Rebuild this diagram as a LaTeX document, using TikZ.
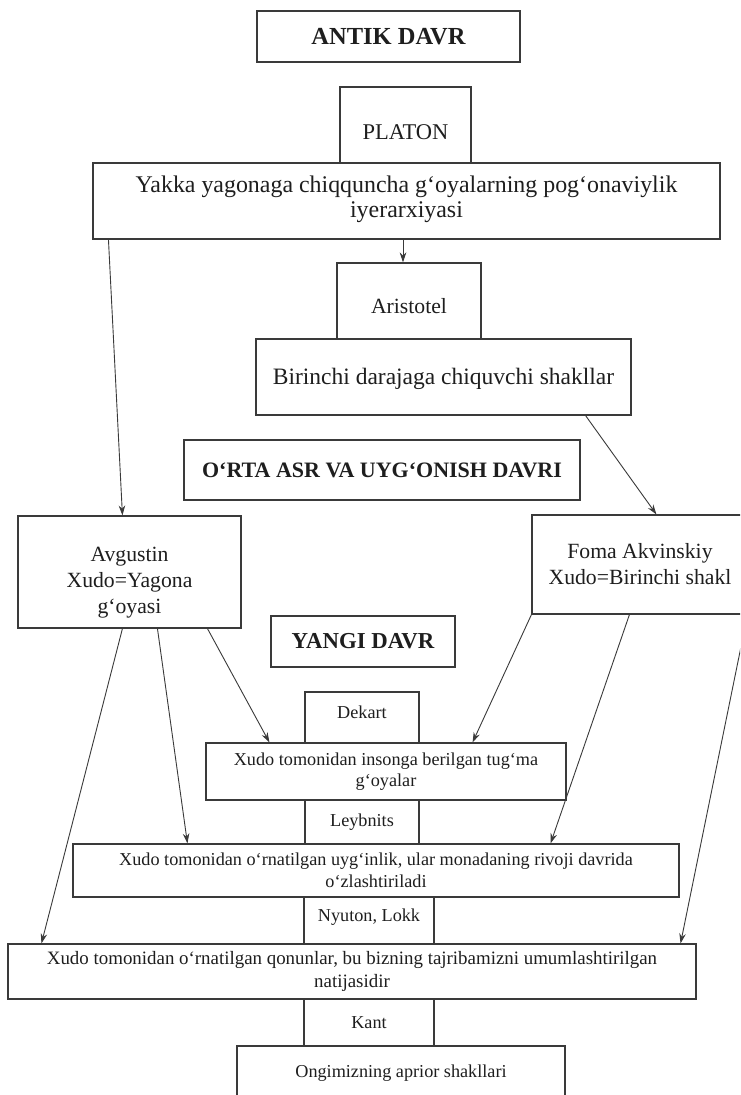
\documentclass[tikz,border=0pt]{standalone}
\usepackage{fontspec}
\setmainfont{Liberation Serif}
\usetikzlibrary{arrows.meta}
\definecolor{ink}{HTML}{1E1E1E}
\definecolor{edge}{HTML}{3A3A3A}
\newcommand{\dn}[2]{\raisebox{-#1}[\height][\depth]{#2}}
\begin{document}
\begin{tikzpicture}[x=1pt,y=-1pt,
  box/.style={draw=edge,line width=1.1pt,rectangle,inner sep=0pt,align=center,text=ink},
  big/.style={font=\fontsize{23.5}{24.5}\selectfont},
  mid/.style={font=\fontsize{21.7}{26}\selectfont},
  hdr/.style={font=\fontsize{22}{26}\selectfont\bfseries},
  sml/.style={font=\fontsize{18.2}{21.5}\selectfont},
  conn/.style={draw=edge,line width=0.9pt,-{Stealth[length=10pt,width=6.5pt]}},
]
\useasboundingbox (0,0) rectangle (740,1095);
\fill[white] (0,0) rectangle (740,1095);
\clip (0,0) rectangle (740,1095);

% ANTIK DAVR
\node[box,font=\fontsize{24.5}{26}\selectfont\bfseries,minimum width=263pt,minimum height=51pt] (antik) at (388.5,36.5) {ANTIK DAVR};
% Platon
\node[box,mid,font=\fontsize{22.5}{26}\selectfont,minimum width=131pt,minimum height=76pt] (platon) at (405.5,125) {\dn{7pt}{PLATON}};
\node[box,big,font=\fontsize{23.9}{24.5}\selectfont,minimum width=627pt,minimum height=76pt] (yakka) at (406.5,201) {\dn{-1pt}{\begin{tabular}{@{}c@{}}Yakka yagonaga chiqquncha g‘oyalarning pog‘onaviylik\\iyerarxiyasi\end{tabular}}};
% Aristotel
\node[box,mid,minimum width=144pt,minimum height=76pt] (aristotel) at (409,301) {\dn{5pt}{Aristotel}};
\node[box,big,minimum width=375pt,minimum height=76pt] (birinchi) at (443.5,377) {\dn{2pt}{Birinchi darajaga chiquvchi shakllar}};
% O'rta asr
\node[box,hdr,minimum width=396pt,minimum height=60pt] (orta) at (382,470) {O‘RTA ASR VA UYG‘ONISH DAVRI};
\node[box,mid,minimum width=223pt,minimum height=112pt] (avgustin) at (129.5,572) {\dn{10pt}{\begin{tabular}{@{}c@{}}Avgustin\\Xudo=Yagona\\g‘oyasi\end{tabular}}};
\node[box,mid,minimum width=216pt,minimum height=99pt] (foma) at (640,564.5) {Foma Akvinskiy\\Xudo=Birinchi shakl};
% Yangi davr
\node[box,hdr,font=\fontsize{22.8}{26}\selectfont\bfseries,minimum width=184pt,minimum height=51pt] (yangi) at (363,641.5) {YANGI DAVR};
\node[box,sml,minimum width=114pt,minimum height=51pt] (dekart) at (362,717.5) {\dn{-5pt}{Dekart}};
\node[box,sml,minimum width=360pt,minimum height=57pt] (xudo1) at (386,771.5) {Xudo tomonidan insonga berilgan tug‘ma\\g‘oyalar};
\node[box,sml,minimum width=114pt,minimum height=44pt] (leybnits) at (362,822) {Leybnits};
\node[box,sml,minimum width=606pt,minimum height=53pt] (xudo2) at (376,870.5) {Xudo tomonidan o‘rnatilgan uyg‘inlik, ular monadaning rivoji davrida\\o‘zlashtiriladi};
\node[box,sml,minimum width=130pt,minimum height=47pt] (nyuton) at (369,920.5) {\dn{-3pt}{Nyuton, Lokk}};
\node[box,font=\fontsize{18.9}{22.5}\selectfont,minimum width=688pt,minimum height=55pt] (xudo3) at (352,971.5) {Xudo tomonidan o‘rnatilgan qonunlar, bu bizning tajribamizni umumlashtirilgan\\natijasidir};
\node[box,sml,minimum width=130pt,minimum height=47pt] (kant) at (369,1022.5) {Kant};
\node[box,sml,minimum width=328pt,minimum height=54pt] (ongim) at (401,1073) {Ongimizning aprior shakllari};

% connectors
\draw[conn] (yakka.south -| aristotel.north) ++(-6,0) coordinate (ya1) -- (ya1 |- aristotel.north);
\draw[conn] ([xshift=16pt]yakka.south west) -- ([xshift=105pt]avgustin.north west);
\draw[conn] ([xshift=-46pt]birinchi.south east) -- ([xshift=125pt]foma.north west);

\draw[conn] ([xshift=105pt]avgustin.south west) -- ([xshift=34pt]xudo3.north west);
\draw[conn] ([xshift=140pt]avgustin.south west) -- ([xshift=115pt]xudo2.north west);
\draw[conn] ([xshift=190pt]avgustin.south west) -- ([xshift=64pt]xudo1.north west);

\draw[conn] (foma.south west) -- ([xshift=-94pt]xudo1.north east);
\draw[conn] ([xshift=98pt]foma.south west) -- ([xshift=-129pt]xudo2.north east);
\draw[conn] ([xshift=-1pt]foma.south east) -- ([xshift=-16pt]xudo3.north east);
\end{tikzpicture}
\end{document}
